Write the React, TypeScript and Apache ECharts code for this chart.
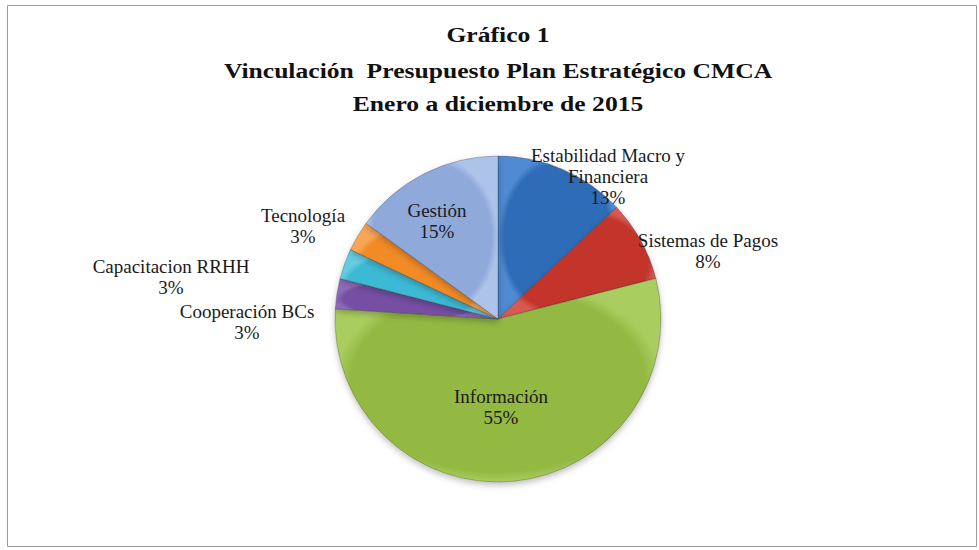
import React, { useEffect, useRef } from "react";
import * as echarts from "echarts";

const titleLines = [
  "Gráfico 1",
  "Vinculación  Presupuesto Plan Estratégico CMCA",
  "Enero a diciembre de 2015",
];

const categories = [
  "Estabilidad Macro y Financiera",
  "Sistemas de Pagos",
  "Información",
  "Cooperación BCs",
  "Capacitacion RRHH",
  "Tecnología",
  "Gestión",
];

const shares = [13, 8, 55, 3, 3, 3, 15];

const sliceColors = [
  ["#2f6cb8", "#4f8ad2"],
  ["#c3342c", "#d85a50"],
  ["#93b943", "#aacd5e"],
  ["#7650a4", "#8f6cba"],
  ["#3db9d6", "#66cce3"],
  ["#f28a26", "#f8a656"],
  ["#8fa9da", "#aec3e8"],
];

// label anchor points (text block centres) in px
const labelAnchors = [
  [608, 176],
  [708, 251],
  [501, 407],
  [247, 322],
  [171, 277],
  [303, 226],
  [437, 221],
];

// title line centre y positions
const titleY = [35, 70.5, 103.5];

const SERIF = "Liberation Serif";

export default function App() {
  const ref = useRef<HTMLDivElement>(null);
  useEffect(() => {
    if (!ref.current) return;
    const chart = echarts.init(ref.current, null, { renderer: "svg" });
    const data = categories.map((name, i) => ({
      name,
      value: shares[i],
      itemStyle: {
        color: new echarts.graphic.RadialGradient(0.5, 0.5, 0.5, [
          { offset: 0, color: sliceColors[i][0] },
          { offset: 0.9, color: sliceColors[i][0] },
          { offset: 1, color: sliceColors[i][1] },
        ]),
      },
    }));
    chart.setOption({
      animation: false,
      backgroundColor: "#ffffff",
      textStyle: { fontFamily: SERIF },
      graphic: [
        {
          type: "rect",
          shape: { x: 7.5, y: 5.5, width: 969, height: 541 },
          style: { fill: "none", stroke: "#9a9a9a", lineWidth: 1 },
          silent: true,
        },
        ...titleLines.map((t, i) => ({
          type: "text",
          x: 498,
          y: titleY[i],
          scaleX: 1.22,
          silent: true,
          style: {
            text: t,
            font: `bold 21px ${SERIF}`,
            fill: "#111",
            textAlign: "center",
            textVerticalAlign: "middle",
          },
        })),
      ],
      series: [
        {
          type: "pie",
          center: [498, 319],
          radius: 163,
          startAngle: 90,
          clockwise: true,
          data,
          itemStyle: {
            borderColor: "rgba(40,40,40,0.35)",
            borderWidth: 0.8,
            shadowColor: "rgba(0,0,0,0.25)",
            shadowBlur: 6,
            shadowOffsetY: 3,
          },
          label: {
            show: true,
            position: "outside",
            formatter: (p: any) =>
              `${String(p.name).replace("Macro y ", "Macro y\n")}\n${Math.round(p.percent)}%`,
            fontFamily: SERIF,
            fontSize: 19,
            lineHeight: 21,
            color: "#1a1a1a",
            align: "center",
          },
          labelLine: { show: false },
          labelLayout: (params: any) => ({
            x: labelAnchors[params.dataIndex][0],
            y: labelAnchors[params.dataIndex][1],
            align: "center",
            verticalAlign: "middle",
          }),
          emphasis: { disabled: true },
        },
      ],
    });
    return () => chart.dispose();
  }, []);
  return (
    <div
      ref={ref}
      style={{ position: "fixed", left: 0, top: 0, width: 979, height: 550 }}
    />
  );
}
